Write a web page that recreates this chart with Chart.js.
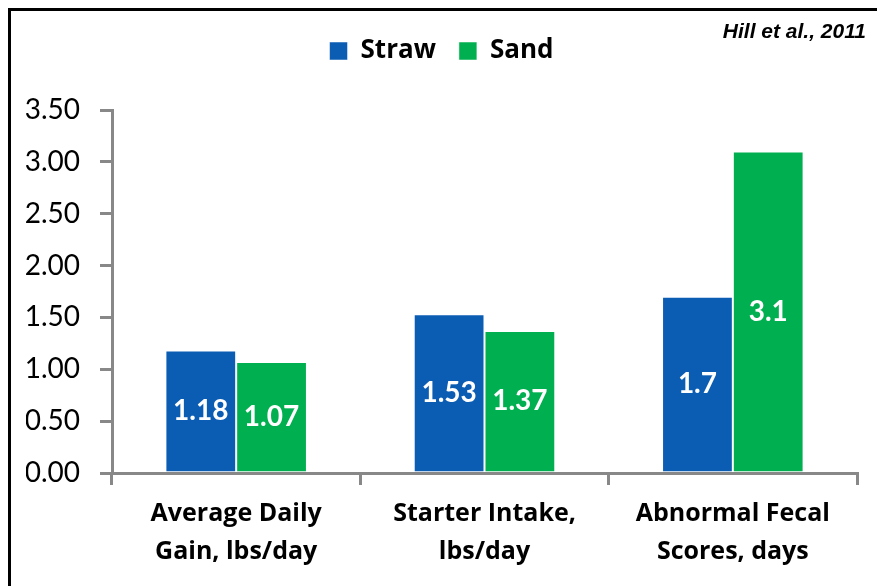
<!DOCTYPE html>
<html>
<head>
<meta charset="utf-8">
<script src="https://cdn.jsdelivr.net/npm/chart.js@4"></script>
<style>
  body { margin: 0; background: #fff; overflow: hidden; }
  #wrap { position: relative; width: 877px; height: 586px; overflow: hidden; }
  #frame { position: absolute; left: 8px; top: 8px; width: 900px; height: 620px; border: 3px solid #000; box-sizing: border-box; }
  canvas { position: absolute; left: 0; top: 0; }
</style>
</head>
<body>
<div id="wrap">
  <div id="frame"></div>
  <canvas id="myChart" width="877" height="586"></canvas>
</div>
<script>
var categories = [
  ['Average Daily', 'Gain, lbs/day'],
  ['Starter Intake,', 'lbs/day'],
  ['Abnormal Fecal', 'Scores, days']
];
var strawValues = [1.18, 1.53, 1.7];
var sandValues = [1.07, 1.37, 3.1];
var citation = 'Hill et al., 2011';

// white value labels in the middle of each bar
var barLabels = {
  id: 'barLabels',
  afterDatasetsDraw: function(chart) {
    var ctx = chart.ctx;
    ctx.save();
    ctx.fillStyle = '#ffffff';
    ctx.font = 'bold 28px Lato';
    ctx.textAlign = 'center';
    ctx.textBaseline = 'middle';
    chart.data.datasets.forEach(function(ds, i) {
      chart.getDatasetMeta(i).data.forEach(function(bar, j) {
        ctx.fillText(String(ds.data[j]), bar.x, (bar.y + bar.base) / 2);
      });
    });
    ctx.restore();
  }
};

var citationText = {
  id: 'citationText',
  afterDraw: function(chart) {
    var ctx = chart.ctx;
    ctx.save();
    ctx.fillStyle = '#000';
    ctx.font = 'italic bold 21px "Liberation Sans"';
    ctx.textAlign = 'right';
    ctx.textBaseline = 'alphabetic';
    ctx.fillText(citation, 866, 38);
    ctx.restore();
  }
};

var ctx = document.getElementById('myChart').getContext('2d');
var myChart = new Chart(ctx, {
  type: 'bar',
  data: {
    labels: categories,
    datasets: [{
      label: 'Straw',
      data: strawValues,
      backgroundColor: '#0b5cb3',
      borderColor: 'rgba(255,255,255,0.5)',
      borderWidth: 1
    }, {
      label: 'Sand',
      data: sandValues,
      backgroundColor: '#00b050',
      borderColor: 'rgba(255,255,255,0.5)',
      borderWidth: 1
    }]
  },
  options: {
    responsive: false,
    animation: false,
    categoryPercentage: 0.57,
    barPercentage: 1,
    layout: {
      padding: { top: 15, left: 26, right: 20, bottom: 0 }
    },
    plugins: {
      legend: {
        display: true,
        position: 'top',
        labels: {
          color: '#000000',
          font: { family: 'Open Sans', size: 26, weight: 'bold' },
          boxWidth: 18,
          boxHeight: 18,
          padding: 23
        }
      },
      // empty title used as a gap between legend and plot
      title: {
        display: true,
        text: '',
        weight: 0,
        font: { size: 10, lineHeight: 1 },
        padding: { top: 0, bottom: 26 }
      },
      tooltip: { enabled: false }
    },
    scales: {
      y: {
        min: 0,
        max: 3.5,
        afterFit: function(scale) { scale.width = 86; },
        ticks: {
          stepSize: 0.5,
          color: '#000',
          padding: 20,
          font: { family: 'Lato', size: 28 },
          callback: function(v) { return v.toFixed(2); }
        },
        grid: {
          drawOnChartArea: false,
          color: '#888888',
          lineWidth: 3,
          tickLength: 12
        },
        border: { display: true, color: '#888888', width: 3 }
      },
      x: {
        afterFit: function(scale) { scale.height = 113; },
        ticks: {
          color: '#000',
          padding: 10,
          maxRotation: 0,
          font: { family: 'Open Sans', size: 25, weight: 'bold', lineHeight: 1.52 }
        },
        grid: {
          offset: true,
          drawOnChartArea: false,
          color: '#888888',
          lineWidth: 3,
          tickLength: 12
        },
        border: { display: true, color: '#888888', width: 3 }
      }
    }
  },
  plugins: [barLabels, citationText]
});
</script>
</body>
</html>
